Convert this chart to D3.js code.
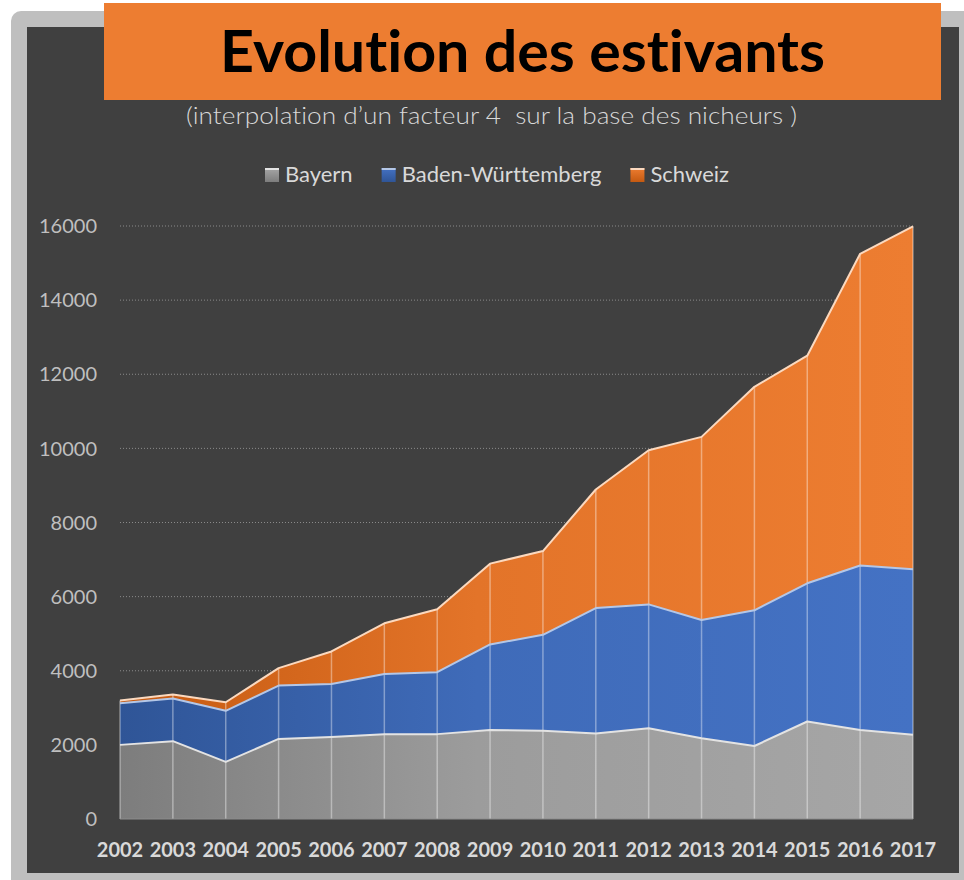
<!DOCTYPE html>
<html>
<head>
<meta charset="utf-8">
<script src="https://cdn.jsdelivr.net/npm/d3@7"></script>
<style>
  html, body { margin: 0; padding: 0; background: #ffffff; }
  svg { display: block; }
  text { font-variant-ligatures: none; }
</style>
</head>
<body>
<svg id="chart"></svg>
<script>
//chart data
const years = ["2002","2003","2004","2005","2006","2007","2008","2009","2010","2011","2012","2013","2014","2015","2016","2017"];
const bayern = [2000, 2100, 1540, 2160, 2210, 2290, 2290, 2400, 2380, 2310, 2450, 2180, 1970, 2630, 2400, 2270];
const badenWuerttemberg = [1120, 1150, 1380, 1440, 1430, 1620, 1670, 2310, 2590, 3380, 3340, 3190, 3660, 3730, 4440, 4470];
const schweiz = [80, 110, 230, 470, 880, 1370, 1700, 2180, 2260, 3200, 4160, 4940, 6030, 6140, 8410, 9250];
const seriesNames = ["Bayern", "Baden-Württemberg", "Schweiz"];
const yTicks = [0, 2000, 4000, 6000, 8000, 10000, 12000, 14000, 16000];

const width = 964, height = 880;
const svg = d3.select("#chart").attr("width", width).attr("height", height);

//plot area
const x0 = 120, x1 = 913, yBottom = 819, yTop = 226;

//frame + dark background
svg.append("rect").attr("x", 11).attr("y", 11).attr("width", 975).attr("height", 890)
    .attr("rx", 10).attr("fill", "#bfbfbf");
svg.append("rect").attr("x", 27).attr("y", 27).attr("width", 932).attr("height", 846)
    .attr("fill", "#404040");

//gradients for the areas (dark on the left, light on the right)
const defs = svg.append("defs");
const fills = [
    ["#7d7d7d", "#a6a6a6"],
    ["#2f5597", "#4472c4"],
    ["#c55a11", "#ed7d31"]
];
fills.forEach((c, i) => {
    const g = defs.append("linearGradient").attr("id", "grad" + i)
        .attr("gradientUnits", "userSpaceOnUse")
        .attr("x1", x0).attr("x2", x1).attr("y1", 0).attr("y2", 0);
    g.append("stop").attr("offset", "0%").attr("stop-color", c[0]);
    g.append("stop").attr("offset", "45%").attr("stop-color", d3.interpolateRgb(c[0], c[1])(0.75));
    g.append("stop").attr("offset", "100%").attr("stop-color", c[1]);
    const lg = defs.append("linearGradient").attr("id", "leg" + i)
        .attr("x1", 0).attr("x2", 0).attr("y1", 0).attr("y2", 1);
    lg.append("stop").attr("offset", "0%").attr("stop-color", c[1]);
    lg.append("stop").attr("offset", "100%").attr("stop-color", c[0]);
});
const lineColors = ["#e3e3e3", "#b4c7e7", "#fbd9bf"];

//title box
svg.append("rect").attr("x", 104).attr("y", 3).attr("width", 837).attr("height", 97)
    .attr("fill", "#ed7d31");
svg.append("text").attr("x", 220).attr("y", 72)
    .attr("textLength", 605).attr("lengthAdjust", "spacingAndGlyphs")
    .style("font-family", "Lato, 'Open Sans', sans-serif")
    .style("font-weight", "bold").style("font-size", "57px").style("fill", "#000")
    .text("Evolution des estivants");

svg.append("text").attr("x", 186).attr("y", 124)
    .attr("textLength", 611).attr("lengthAdjust", "spacingAndGlyphs")
    .style("font-family", "Lato, sans-serif").style("font-weight", 300)
    .style("font-size", "24px").style("fill", "#d9d9d9")
    .text("(interpolation d\u2019un facteur 4\u00a0 sur la base des nicheurs )");

//scales
const x = d3.scalePoint().domain(years).range([x0, x1]);
const y = d3.scaleLinear().domain([0, 16000]).range([yBottom, yTop]);

//gridlines + y labels
svg.append("g").selectAll("line").data(yTicks.filter(d => d > 0)).join("line")
    .attr("x1", x0).attr("x2", x1)
    .attr("y1", d => y(d)).attr("y2", d => y(d))
    .attr("stroke", "#8a8a8a").attr("stroke-width", 1).attr("stroke-dasharray", "1,2");

svg.append("g").selectAll("text").data(yTicks).join("text")
    .attr("x", 97).attr("y", d => y(d)).attr("dy", "0.36em")
    .attr("text-anchor", "end")
    .style("font-family", "Lato, sans-serif").style("font-size", "20px").style("fill", "#bfbfbf")
    .text(d => d);

//stack
const rows = years.map((yr, i) => ({ year: yr, Bayern: bayern[i], "Baden-Württemberg": badenWuerttemberg[i], Schweiz: schweiz[i] }));
const stacked = d3.stack().keys(seriesNames)(rows);

const area = d3.area().x(d => x(d.data.year)).y0(d => y(d[0])).y1(d => y(d[1]));
const topLine = d3.line().x(d => x(d.data.year)).y(d => y(d[1]));

svg.append("g").selectAll("path").data(stacked).join("path")
    .attr("d", area).attr("fill", (d, i) => `url(#grad${i})`);

//drop lines
const last = stacked[stacked.length - 1];
svg.append("g").selectAll("line").data(last).join("line")
    .attr("x1", d => x(d.data.year)).attr("x2", d => x(d.data.year))
    .attr("y1", yBottom).attr("y2", d => y(d[1]))
    .attr("stroke", "rgba(255,255,255,0.38)").attr("stroke-width", 1.5);

svg.append("g").selectAll("path").data(stacked).join("path")
    .attr("d", topLine).attr("fill", "none")
    .attr("stroke", (d, i) => lineColors[i]).attr("stroke-width", 2)
    .attr("stroke-linejoin", "round");

//x axis
svg.append("line").attr("x1", x0).attr("x2", x1).attr("y1", yBottom).attr("y2", yBottom)
    .attr("stroke", "#8c8c8c").attr("stroke-width", 1.2);

svg.append("g").selectAll("text").data(years).join("text")
    .attr("x", d => x(d)).attr("y", 857).attr("text-anchor", "middle")
    .style("font-family", "Lato, sans-serif").style("font-weight", "bold")
    .style("font-size", "20px").style("fill", "#d9d9d9")
    .text(d => d);

//legend
let lx = 265;
seriesNames.forEach((name, i) => {
    svg.append("rect").attr("x", lx).attr("y", 168).attr("width", 14).attr("height", 14)
        .attr("fill", `url(#leg${i})`);
    svg.append("line").attr("x1", lx).attr("x2", lx + 14).attr("y1", 169).attr("y2", 169)
        .attr("stroke", lineColors[i]).attr("stroke-width", 2);
    const t = svg.append("text").attr("x", lx + 20).attr("y", 182)
        .style("font-family", "Lato, sans-serif").style("font-size", "22px").style("fill", "#d9d9d9")
        .text(name);
    lx += 20 + t.node().getComputedTextLength() + 29;
});
</script>
</body>
</html>
